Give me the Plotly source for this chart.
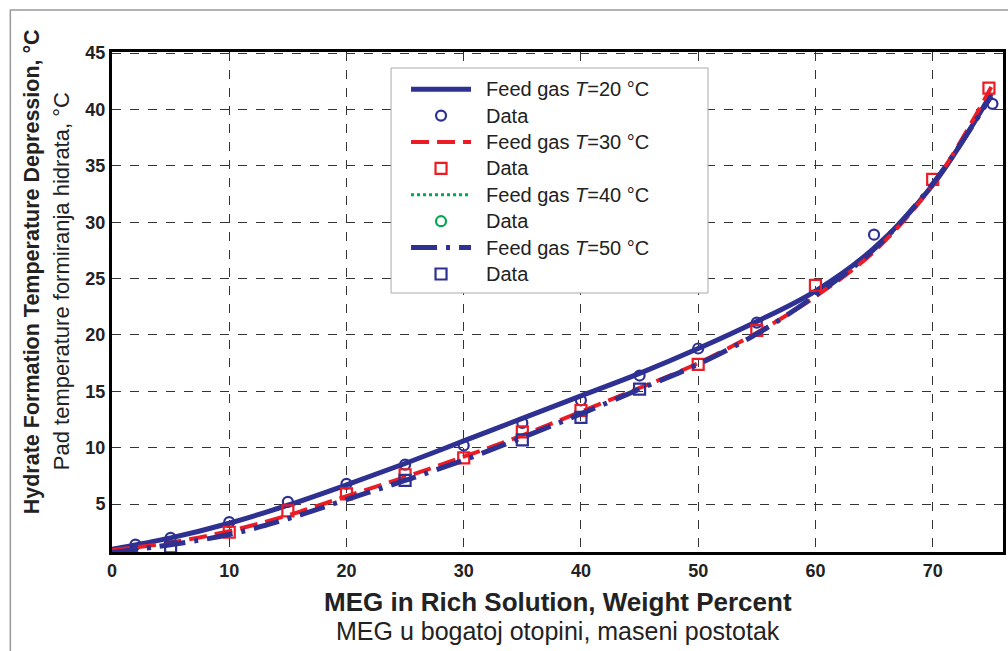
import plotly.graph_objects as go

# ---- data ----
x_curve = [0, 5, 10, 15, 20, 25, 30, 35, 40, 45, 50, 55, 60, 65, 70, 75]
t20_curve = [1.0, 2.0, 3.3, 4.9, 6.7, 8.6, 10.6, 12.6, 14.6, 16.6, 18.8, 21.2, 23.9, 27.7, 33.3, 41.4]
t30_curve = [0.9, 1.6, 2.6, 4.0, 5.7, 7.4, 9.2, 11.1, 13.2, 15.3, 17.5, 20.2, 23.4, 27.4, 33.3, 42.0]
t40_curve = [1.0, 2.0, 3.3, 4.9, 6.7, 8.6, 10.6, 12.6, 14.6, 16.6, 18.8, 21.2, 23.9, 27.7, 33.3, 41.4]
t50_curve = [0.7, 1.4, 2.3, 3.7, 5.4, 7.1, 8.9, 10.9, 13.0, 15.2, 17.4, 20.1, 23.5, 27.6, 33.4, 41.2]

t20_x = [2, 5, 10, 15, 20, 25, 30, 35, 40, 45, 50, 55, 65, 75.1]
t20_y = [1.4, 2.0, 3.4, 5.2, 6.8, 8.5, 10.2, 12.2, 14.2, 16.4, 18.8, 21.1, 28.9, 40.5]

t30_x = [10, 15, 20, 25, 30, 35, 40, 50, 55, 60, 70, 74.8]
t30_y = [2.5, 4.4, 5.9, 7.6, 9.1, 11.4, 13.3, 17.4, 20.4, 24.4, 33.8, 41.9]

t50_x = [5, 25, 35, 40, 45]
t50_y = [1.2, 7.1, 10.7, 12.7, 15.2]

x_ticks = [0, 10, 20, 30, 40, 50, 60, 70]
y_ticks = [5, 10, 15, 20, 25, 30, 35, 40, 45]

BLUE = "#2E3192"
RED = "#ED1C24"
GREEN = "#00A651"
NARROW = "Liberation Sans Narrow, Arial Narrow, Liberation Sans, Arial"
SANS = "Liberation Sans, Arial"


def leg(txt):
    return f'&nbsp;&nbsp;<span style="font-size:20px">{txt}</span>'


fig = go.Figure()

# green curve drawn first so it sits underneath the others
fig.add_trace(go.Scatter(x=x_curve, y=t40_curve, mode="lines",
                         line=dict(color=GREEN, width=3, dash="dot", shape="spline"),
                         name=leg("Feed gas <i>T</i>=40 °C"), legendrank=5))
fig.add_trace(go.Scatter(x=x_curve, y=t20_curve, mode="lines", line=dict(color=BLUE, width=5, shape="spline"),
                         name=leg("Feed gas <i>T</i>=20 °C"), legendrank=1))
fig.add_trace(go.Scatter(x=t20_x, y=t20_y, mode="markers",
                         marker=dict(symbol="circle-open", size=10, color=BLUE, line=dict(width=2.2)),
                         name=leg("Data"), legendrank=2))
fig.add_trace(go.Scatter(x=x_curve, y=t30_curve, mode="lines",
                         line=dict(color=RED, width=4, dash="18px,8px", shape="spline"),
                         name=leg("Feed gas <i>T</i>=30 °C"), legendrank=3))
fig.add_trace(go.Scatter(x=t30_x, y=t30_y, mode="markers",
                         marker=dict(symbol="square-open", size=11, color=RED, line=dict(width=2.2)),
                         name=leg("Data"), legendrank=4))
fig.add_trace(go.Scatter(x=[None], y=[None], mode="markers",
                         marker=dict(symbol="circle-open", size=10, color=GREEN, line=dict(width=2.2)),
                         name=leg("Data"), legendrank=6))
fig.add_trace(go.Scatter(x=x_curve, y=t50_curve, mode="lines",
                         line=dict(color=BLUE, width=5, dash="26px,9px,4px,9px", shape="spline"),
                         name=leg("Feed gas <i>T</i>=50 °C"), legendrank=7))
fig.add_trace(go.Scatter(x=t50_x, y=t50_y, mode="markers",
                         marker=dict(symbol="square-open", size=11, color=BLUE, line=dict(width=2.2)),
                         name=leg("Data"), legendrank=8))

axis_common = dict(
    showline=True, linecolor="black", linewidth=3, mirror=True,
    showgrid=True, gridcolor="#333333", gridwidth=1, griddash="dash",
    zeroline=False, ticks="",
    tickfont=dict(family=NARROW, size=18, color="#222222"),
)

fig.update_layout(
    width=1008, height=651,
    margin=dict(l=112, r=2, t=52, b=99),
    paper_bgcolor="white", plot_bgcolor="white",
    showlegend=True,
    legend=dict(
        x=0.33, y=0.962, xanchor="left", yanchor="top",
        bgcolor="rgba(0,0,0,0)", borderwidth=0,
        font=dict(family=SANS, size=18, color="#222222"),
        itemwidth=60, tracegroupgap=0,
    ),
    xaxis=dict(range=[0, 76], tickvals=x_ticks, ticktext=[f"<b>{v}</b>" for v in x_ticks], **axis_common),
    yaxis=dict(range=[0.75, 45.1], tickvals=y_ticks, ticktext=[f"<b>{v}</b>" for v in y_ticks], **axis_common),
)

# legend box
fig.add_shape(type="rect", xref="paper", yref="paper",
              x0=(392 - 112) / 894, x1=(710 - 112) / 894, y0=1 - (293 - 52) / 500, y1=1 - (68 - 52) / 500,
              line=dict(color="#AAAAAA", width=1), fillcolor="white", layer="above")

# axis titles as annotations
fig.add_annotation(xref="paper", yref="paper", x=0.5, y=-0.1, yanchor="middle", showarrow=False,
                   text="<b>MEG in Rich Solution, Weight Percent</b>",
                   font=dict(family=SANS, size=26, color="#222222"))
fig.add_annotation(xref="paper", yref="paper", x=0.5, y=-0.158, yanchor="middle", showarrow=False,
                   text="MEG u bogatoj otopini, maseni postotak",
                   font=dict(family=SANS, size=25, color="#222222"))
fig.add_annotation(xref="paper", yref="paper", x=-0.0895, y=0.56, xanchor="center", yanchor="middle",
                   showarrow=False, textangle=-90,
                   text="<b>Hydrate Formation Temperature Depression, °C</b>",
                   font=dict(family=SANS, size=21.5, color="#222222"))
fig.add_annotation(xref="paper", yref="paper", x=-0.057, y=0.542, xanchor="center", yanchor="middle",
                   showarrow=False, textangle=-90,
                   text="Pad temperature formiranja hidrata, °C",
                   font=dict(family=SANS, size=22, color="#222222"))

# outer gray frame
fig.add_shape(type="rect", xref="paper", yref="paper",
              x0=(10 - 112) / 894, x1=1.01, y0=-0.3, y1=1 + (52 - 10) / 500,
              line=dict(color="#999999", width=1.5), fillcolor="rgba(0,0,0,0)", layer="below")

fig.write_html("out.html", config={"displayModeBar": False},
               post_script="document.body.style.margin='0px';document.body.style.padding='0px';")
